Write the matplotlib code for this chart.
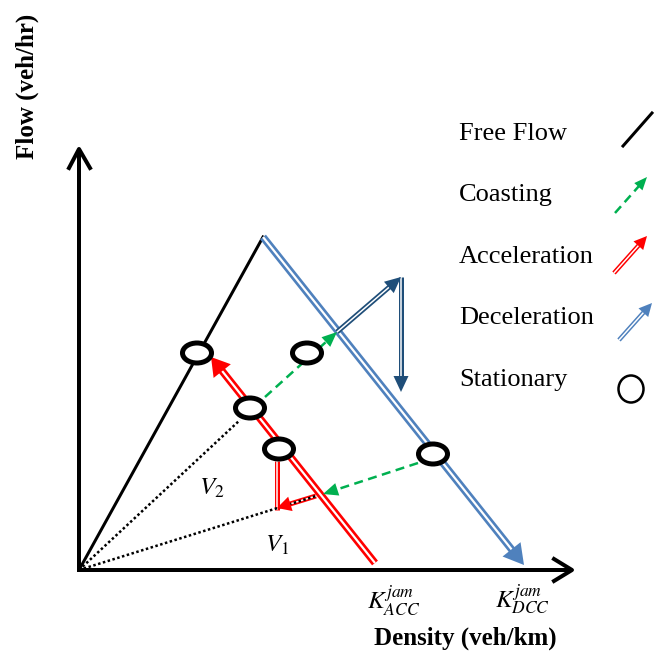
import matplotlib
matplotlib.use('Agg')
import matplotlib.pyplot as plt
from matplotlib.patches import Ellipse, Polygon
import numpy as np

plt.rcParams['font.family'] = ['Liberation Serif', 'DejaVu Serif']
plt.rcParams['mathtext.fontset'] = 'stix'

# schematic flow-density states (density k, flow q)
free_flow_k = [0, 184]
free_flow_q = [0, 333]
decel_k = [184, 445]
decel_q = [333, 5]
accel_k = [296, 132]
accel_q = [7, 213]

stationary_k = [118, 228, 171, 200, 354]
stationary_q = [217, 217, 162, 121, 116]

coast1_k = [186, 258]
coast1_q = [173, 238]
coast2_k = [339, 244]
coast2_q = [107, 76]
decel2a_k = [258, 322]
decel2a_q = [238, 293]
decel2b_k = [322, 322]
decel2b_q = [293, 178]
accel2_k = [198, 198]
accel2_q = [109, 60]
accel3_k = [237, 198]
accel3_q = [74, 62]
v1_k = [0, 237]
v1_q = [0, 74]
v2_k = [0, 161]
v2_q = [0, 150]

legend_labels = ['Free Flow', 'Coasting', 'Acceleration', 'Deceleration', 'Stationary']

RED = '#ff0000'
BLUE = '#4f81bd'
DBLUE = '#1f4e79'
GREEN = '#00b050'
PX = 0.72  # points per pixel at dpi 100

fig = plt.figure(figsize=(6.6, 6.56), dpi=100)
ax = fig.add_axes([0, 0, 1, 1])
ax.set_xlim(-79, 581)
ax.set_ylim(-86, 570)
ax.axis('off')


def head(p0, p1, length, width, color, z):
    p0 = np.array(p0, float)
    p1 = np.array(p1, float)
    d = (p1 - p0) / np.hypot(*(p1 - p0))
    n = np.array([-d[1], d[0]])
    base = p1 - d * length
    ax.add_patch(Polygon([p1, base + n * width / 2, base - n * width / 2],
                         closed=True, fc=color, ec='none', zorder=z))
    return base + d * 1.5


def double_arrow(ks, qs, color, outer, inner, hl=None, hw=None, z=3):
    p0 = (ks[0], qs[0])
    p1 = (ks[1], qs[1])
    end = p1
    if hl:
        end = head(p0, p1, hl, hw, color, z + 1)
    ax.plot([p0[0], end[0]], [p0[1], end[1]], color=color, lw=outer * PX,
            solid_capstyle='butt', zorder=z)
    ax.plot([p0[0], end[0]], [p0[1], end[1]], color='white', lw=inner * PX,
            solid_capstyle='butt', zorder=z)


def dashed_arrow(ks, qs, color, lw, hl, hw, z=3):
    p0 = (ks[0], qs[0])
    p1 = (ks[1], qs[1])
    end = head(p0, p1, hl, hw, color, z + 1)
    ax.plot([p0[0], end[0]], [p0[1], end[1]], color=color, lw=lw * PX,
            linestyle=(0, (3.6, 2.2)), zorder=z)


# axes with open arrow heads
ax.plot([0, 0], [-2, 421], color='black', lw=4 * PX, solid_capstyle='butt')
ax.plot([-10, 0, 11], [402, 421, 402], color='black', lw=4 * PX)
ax.plot([-2, 493], [0, 0], color='black', lw=4 * PX, solid_capstyle='butt')
ax.plot([475, 493, 475], [11, 0, -11], color='black', lw=4 * PX)

# free flow
ax.plot(free_flow_k, free_flow_q, color='black', lw=3 * PX, zorder=2)

# dotted speed rays
ax.plot(v1_k, v1_q, color='black', lw=2.5 * PX, linestyle=(0, (1, 1)), zorder=4)
ax.plot(v2_k, v2_q, color='black', lw=2.5 * PX, linestyle=(0, (1, 1)), zorder=4)

# main deceleration / acceleration lines
double_arrow(decel_k, decel_q, BLUE, 7.5, 2.2, hl=20, hw=23, z=3)
double_arrow(accel_k, accel_q, RED, 7.5, 2.2, hl=18, hw=22, z=3)

# transitions
dashed_arrow(coast1_k, coast1_q, GREEN, 2.5, 15, 13)
dashed_arrow(coast2_k, coast2_q, GREEN, 2.5, 15, 13)
double_arrow(decel2a_k, decel2a_q, DBLUE, 5, 1.5, hl=16, hw=15)
double_arrow(decel2b_k, decel2b_q, DBLUE, 5, 1.5, hl=16, hw=15)
double_arrow(accel2_k, accel2_q, RED, 5, 1.5, z=2)
double_arrow(accel3_k, accel3_q, RED, 5, 1.5, hl=14, hw=15, z=3)

# stationary states
for k, q in zip(stationary_k, stationary_q):
    ax.add_patch(Ellipse((k, q), width=29, height=20, fc='white', ec='black',
                         lw=5 * PX, zorder=8))

# labels
ax.text(133, 82, r'$V_2$', fontsize=18, ha='center', va='center')
ax.text(198, 25, r'$V_1$', fontsize=18, ha='center', va='center')
ax.text(315, -31, r'$K_{ACC}^{jam}$', fontsize=18, ha='center', va='center')
ax.text(444, -30, r'$K_{DCC}^{jam}$', fontsize=18, ha='center', va='center')
ax.text(386, -68, 'Density (veh/km)', fontsize=18, fontweight='bold',
        ha='center', va='center')
ax.text(-52, 484, 'Flow (veh/hr)', fontsize=18, fontweight='bold',
        rotation=90, ha='center', va='center')

# legend
for i, lab in enumerate(legend_labels):
    ax.text(380, 436 - i * 61.5, lab, fontsize=19, ha='left', va='center')

ax.plot([544, 573], [424, 457], color='black', lw=3 * PX)
dashed_arrow([536, 568], [357, 393], GREEN, 2.5, 13, 11)
double_arrow([535, 568], [297, 334], RED, 4.5, 1.5, hl=13, hw=13)
double_arrow([540, 573], [230, 267], BLUE, 4.5, 1.5, hl=13, hw=13)
ax.add_patch(Ellipse((552, 181), width=25, height=27, fc='white', ec='black',
                     lw=2.5 * PX, zorder=8))

fig.savefig('out.png', dpi=100)
